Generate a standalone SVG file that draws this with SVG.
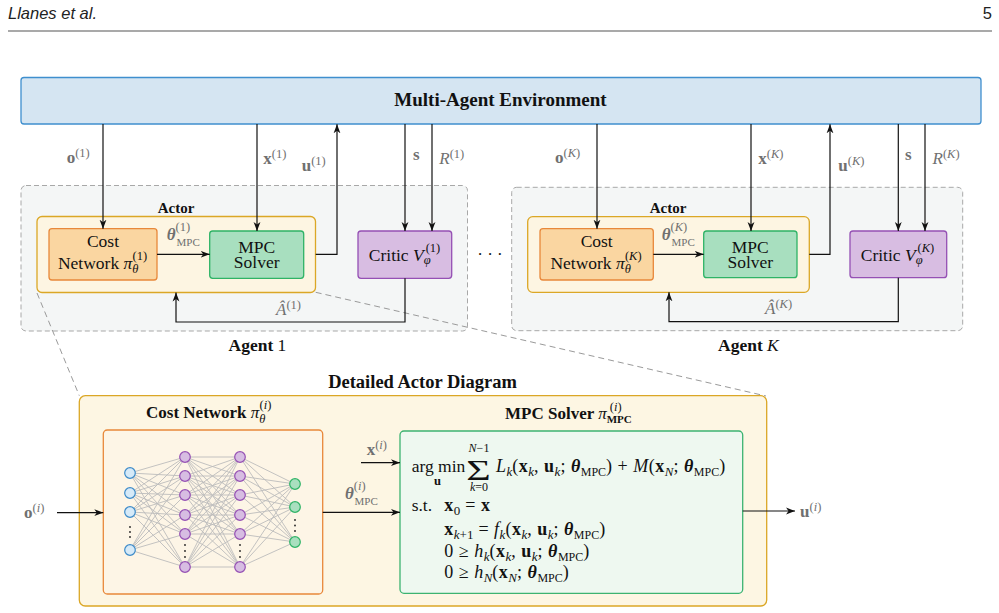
<svg xmlns="http://www.w3.org/2000/svg" width="999" height="613" viewBox="0 0 999 613">
<defs>
<style>
text{font-family:"Liberation Serif","Times New Roman",serif;fill:#111}
.hdr{font-family:"Liberation Sans",Arial,sans-serif;font-style:italic;font-size:16.5px;fill:#222}
.b{font-weight:bold}
.n{font-weight:normal}
.i{font-style:italic}
.bi{font-weight:bold;font-style:italic}
.g{fill:#707070}
.c{fill:none;stroke:#111;stroke-width:1.2}
.ca{marker-end:url(#ah)}
.dash{fill:none;stroke:#9a9a9a;stroke-width:1;stroke-dasharray:6 4}
.agent{fill:#f4f6f6;stroke:#a8a8a8;stroke-width:1;stroke-dasharray:5 3}
.actor{fill:#fdf5e2;stroke:#dba726;stroke-width:1.3}
.cost{fill:#fad6a1;stroke:#e8883a;stroke-width:1.3}
.mpc{fill:#a8dfbf;stroke:#2eb366;stroke-width:1.3}
.critic{fill:#d8bde2;stroke:#9550b4;stroke-width:1.3}
.box{font-size:17.5px}
.lab{font-size:17px}
.sm{font-size:12.5px}
.xs{font-size:11px}
.f{font-size:18px;letter-spacing:0.5px}
.f .sm{font-size:13px;letter-spacing:0}
.f .xs{font-size:12px;letter-spacing:0}
.nin{fill:#d6eaf8;stroke:#3d8bc9;stroke-width:1.2}
.nh{fill:#d7bde2;stroke:#9550b4;stroke-width:1.2}
.nout{fill:#a9dfbf;stroke:#2eb366;stroke-width:1.2}
.edge{fill:none;stroke:#bcbcbc;stroke-width:0.9}
.dot{fill:#222}
</style>
<marker id="ah" viewBox="0 0 10 10" refX="10" refY="5" markerWidth="9" markerHeight="9" markerUnits="userSpaceOnUse" orient="auto"><path d="M0,1.2L10,5L0,8.8L2.8,5z" fill="#111"/></marker>
</defs>

<g id="page-header">
<text class="hdr" x="8" y="19">Llanes et al.</text>
<text class="hdr" x="992" y="19" text-anchor="end" style="font-style:normal">5</text>
<line x1="8" y1="31" x2="992" y2="31" stroke="#555" stroke-width="1.2"/>
</g>

<g id="environment">
<rect x="21" y="77.5" width="960" height="46.5" rx="3" fill="#d5e5f2" stroke="#3f8fce" stroke-width="1.3"/>
<text class="b" x="500.5" y="106" text-anchor="middle" font-size="19">Multi-Agent Environment</text>
</g>

<g id="agent-1">
<rect class="agent" x="21" y="185.5" width="446.5" height="145.5" rx="5"/>
<text class="b" x="228.5" y="351" font-size="17.5">Agent <tspan class="n">1</tspan></text>
</g>
<g id="actor-1">
<rect class="actor" x="37" y="216.5" width="278.5" height="76" rx="5"/>
<text class="b" x="176" y="213" text-anchor="middle" font-size="15">Actor</text>
</g>
<g id="cost-network-1">
<rect class="cost" x="49" y="228.7" width="108" height="51.3" rx="3"/>
<text class="box" x="103" y="247" text-anchor="middle">Cost</text>
<text class="box" x="102.5" y="269" text-anchor="middle">Network <tspan class="i">π</tspan><tspan class="i sm" dy="3.5">θ</tspan><tspan class="sm" dx="-6" dy="-12.5">(1)</tspan></text>
</g>
<g id="mpc-solver-1">
<rect class="mpc" x="209.7" y="231" width="94" height="47.3" rx="3"/>
<text class="box" x="256.7" y="253.3" text-anchor="middle">MPC</text>
<text class="box" x="256.7" y="268.3" text-anchor="middle">Solver</text>
</g>
<g id="critic-1">
<rect class="critic" x="358" y="231" width="93.7" height="47.3" rx="3"/>
<text class="box" x="404.5" y="260.5" text-anchor="middle">Critic <tspan class="i">V</tspan><tspan class="i sm" dy="3.5">φ</tspan><tspan class="sm" dx="-5" dy="-12.5">(1)</tspan></text>
</g>

<g id="ellipsis">
<text x="490" y="260" text-anchor="middle" font-size="17">· · ·</text>
</g>

<g id="agent-K">
<rect class="agent" x="511.7" y="187.3" width="451" height="143.4" rx="5"/>
<text class="b" x="718" y="351" font-size="17.5">Agent <tspan class="n i">K</tspan></text>
</g>
<g id="actor-K">
<rect class="actor" x="527.7" y="216.7" width="281.6" height="75.6" rx="5"/>
<text class="b" x="668" y="213" text-anchor="middle" font-size="15">Actor</text>
</g>
<g id="cost-network-K">
<rect class="cost" x="540" y="228.7" width="113.3" height="51.3" rx="3"/>
<text class="box" x="596.7" y="247" text-anchor="middle">Cost</text>
<text class="box" x="596" y="269" text-anchor="middle">Network <tspan class="i">π</tspan><tspan class="i sm" dy="3.5">θ</tspan><tspan class="sm" dx="-6" dy="-12.5">(<tspan class="i">K</tspan>)</tspan></text>
</g>
<g id="mpc-solver-K">
<rect class="mpc" x="703.7" y="231" width="93.3" height="46.7" rx="3"/>
<text class="box" x="750.3" y="253.3" text-anchor="middle">MPC</text>
<text class="box" x="750.3" y="268.3" text-anchor="middle">Solver</text>
</g>
<g id="critic-K">
<rect class="critic" x="850" y="231" width="96.7" height="46.7" rx="3"/>
<text class="box" x="897.5" y="260.5" text-anchor="middle">Critic <tspan class="i">V</tspan><tspan class="i sm" dy="3.5">φ</tspan><tspan class="sm" dx="-5" dy="-12.5">(<tspan class="i">K</tspan>)</tspan></text>
</g>

<g id="callout-lines">
<path class="dash" d="M37,293L79.3,395.7"/>
<path class="dash" d="M315.7,292.3L766,396"/>
</g>

<g id="detailed-actor">
<text class="b" x="422.5" y="388" text-anchor="middle" font-size="18.5">Detailed Actor Diagram</text>
<rect x="79.3" y="395.7" width="687.4" height="210.3" rx="6" fill="#fdf6e3" stroke="#dba726" stroke-width="1.3"/>
</g>

<g id="detailed-cost-network">
<rect x="103.3" y="430" width="219.4" height="164" rx="4" fill="#fdf5e6" stroke="#e8883a" stroke-width="1.3"/>
<text class="b" x="146" y="418" font-size="17">Cost Network <tspan class="i n">π</tspan><tspan class="i n sm" dy="5">θ</tspan><tspan class="n sm" dx="-6" dy="-14">(<tspan class="i">i</tspan>)</tspan></text>
<g id="nn-edges">
<path class="edge" d="M130 473L185 457M130 473L185 476M130 473L185 495M130 473L185 515M130 473L185 534M130 473L185 567M130 493L185 457M130 493L185 476M130 493L185 495M130 493L185 515M130 493L185 534M130 493L185 567M130 512L185 457M130 512L185 476M130 512L185 495M130 512L185 515M130 512L185 534M130 512L185 567M130 550L185 457M130 550L185 476M130 550L185 495M130 550L185 515M130 550L185 534M130 550L185 567"/>
<path class="edge" d="M185 457L240 457M185 457L240 476M185 457L240 495M185 457L240 515M185 457L240 534M185 457L240 567M185 476L240 457M185 476L240 476M185 476L240 495M185 476L240 515M185 476L240 534M185 476L240 567M185 495L240 457M185 495L240 476M185 495L240 495M185 495L240 515M185 495L240 534M185 495L240 567M185 515L240 457M185 515L240 476M185 515L240 495M185 515L240 515M185 515L240 534M185 515L240 567M185 534L240 457M185 534L240 476M185 534L240 495M185 534L240 515M185 534L240 534M185 534L240 567M185 567L240 457M185 567L240 476M185 567L240 495M185 567L240 515M185 567L240 534M185 567L240 567"/>
<path class="edge" d="M240 457L295 484M240 457L295 507M240 457L295 542M240 476L295 484M240 476L295 507M240 476L295 542M240 495L295 484M240 495L295 507M240 495L295 542M240 515L295 484M240 515L295 507M240 515L295 542M240 534L295 484M240 534L295 507M240 534L295 542M240 567L295 484M240 567L295 507M240 567L295 542"/>
</g>
<g id="nn-nodes">
<circle class="nin" cx="130" cy="473" r="5.3"/><circle class="nin" cx="130" cy="493" r="5.3"/><circle class="nin" cx="130" cy="512" r="5.3"/><circle class="nin" cx="130" cy="550" r="5.3"/>
<circle class="nh" cx="185" cy="457" r="5.3"/><circle class="nh" cx="185" cy="476" r="5.3"/><circle class="nh" cx="185" cy="495" r="5.3"/><circle class="nh" cx="185" cy="515" r="5.3"/><circle class="nh" cx="185" cy="534" r="5.3"/><circle class="nh" cx="185" cy="567" r="5.3"/>
<circle class="nh" cx="240" cy="457" r="5.3"/><circle class="nh" cx="240" cy="476" r="5.3"/><circle class="nh" cx="240" cy="495" r="5.3"/><circle class="nh" cx="240" cy="515" r="5.3"/><circle class="nh" cx="240" cy="534" r="5.3"/><circle class="nh" cx="240" cy="567" r="5.3"/>
<circle class="nout" cx="295" cy="484" r="5.3"/><circle class="nout" cx="295" cy="507" r="5.3"/><circle class="nout" cx="295" cy="542" r="5.3"/>
<circle class="dot" cx="130" cy="527" r="0.9"/><circle class="dot" cx="130" cy="532" r="0.9"/><circle class="dot" cx="130" cy="537" r="0.9"/>
<circle class="dot" cx="185" cy="545" r="0.9"/><circle class="dot" cx="185" cy="551" r="0.9"/><circle class="dot" cx="185" cy="557" r="0.9"/>
<circle class="dot" cx="240" cy="545" r="0.9"/><circle class="dot" cx="240" cy="551" r="0.9"/><circle class="dot" cx="240" cy="557" r="0.9"/>
<circle class="dot" cx="295" cy="520" r="0.9"/><circle class="dot" cx="295" cy="525.5" r="0.9"/><circle class="dot" cx="295" cy="531" r="0.9"/>
</g>
</g>

<g id="detailed-mpc-solver">
<rect x="400" y="431" width="342.7" height="162.3" rx="4" fill="#eef8f0" stroke="#3cb371" stroke-width="1.3"/>
<text class="b" x="505" y="419" font-size="17">MPC Solver <tspan class="i n">π</tspan><tspan class="xs" dy="4">MPC</tspan><tspan class="n sm" dx="-22" dy="-12">(<tspan class="i">i</tspan>)</tspan></text>
<text x="411.7" y="472" font-size="17.5">arg min</text>
<text class="b" x="437.5" y="485" text-anchor="middle" font-size="12.5">u</text>
<text transform="translate(478.5,479.5) scale(1.45,1)" text-anchor="middle" font-size="29">Σ</text>
<text x="479" y="451.5" text-anchor="middle" font-size="12"><tspan class="i">N</tspan>−1</text>
<text x="479" y="491" text-anchor="middle" font-size="12"><tspan class="i">k</tspan>=0</text>
<text class="f" x="496" y="472"><tspan class="i">L</tspan><tspan class="i sm" dy="3.5">k</tspan><tspan dy="-3.5">(</tspan><tspan class="b">x</tspan><tspan class="i sm" dy="3.5">k</tspan><tspan dy="-3.5">, </tspan><tspan class="b">u</tspan><tspan class="i sm" dy="3.5">k</tspan><tspan dy="-3.5">; </tspan><tspan class="bi">θ</tspan><tspan class="xs" dy="3.5">MPC</tspan><tspan dy="-3.5">) + </tspan><tspan class="i">M</tspan><tspan>(</tspan><tspan class="b">x</tspan><tspan class="i sm" dy="3.5">N</tspan><tspan dy="-3.5">; </tspan><tspan class="bi">θ</tspan><tspan class="xs" dy="3.5">MPC</tspan><tspan dy="-3.5">)</tspan></text>
<text x="411.7" y="511" font-size="17.5">s.t.</text>
<text class="f" x="444.3" y="511"><tspan class="b">x</tspan><tspan class="sm" dy="3.5">0</tspan><tspan dy="-3.5"> = </tspan><tspan class="b">x</tspan></text>
<text class="f" x="444.3" y="535"><tspan class="b">x</tspan><tspan class="sm" dy="3.5"><tspan class="i">k</tspan>+1</tspan><tspan dy="-3.5"> = </tspan><tspan class="i">f</tspan><tspan class="i sm" dy="3.5">k</tspan><tspan dy="-3.5">(</tspan><tspan class="b">x</tspan><tspan class="i sm" dy="3.5">k</tspan><tspan dy="-3.5">, </tspan><tspan class="b">u</tspan><tspan class="i sm" dy="3.5">k</tspan><tspan dy="-3.5">; </tspan><tspan class="bi">θ</tspan><tspan class="xs" dy="3.5">MPC</tspan><tspan dy="-3.5">)</tspan></text>
<text class="f" x="444.3" y="557">0 ≥ <tspan class="i">h</tspan><tspan class="i sm" dy="3.5">k</tspan><tspan dy="-3.5">(</tspan><tspan class="b">x</tspan><tspan class="i sm" dy="3.5">k</tspan><tspan dy="-3.5">, </tspan><tspan class="b">u</tspan><tspan class="i sm" dy="3.5">k</tspan><tspan dy="-3.5">; </tspan><tspan class="bi">θ</tspan><tspan class="xs" dy="3.5">MPC</tspan><tspan dy="-3.5">)</tspan></text>
<text class="f" x="444.3" y="578">0 ≥ <tspan class="i">h</tspan><tspan class="i sm" dy="3.5">N</tspan><tspan dy="-3.5">(</tspan><tspan class="b">x</tspan><tspan class="i sm" dy="3.5">N</tspan><tspan dy="-3.5">; </tspan><tspan class="bi">θ</tspan><tspan class="xs" dy="3.5">MPC</tspan><tspan dy="-3.5">)</tspan></text>
</g>

<g id="connectors">
<path class="c ca" d="M103,124V228.7"/>
<path class="c ca" d="M257,124V231"/>
<path class="c ca" d="M315.7,254.3H337V124.3"/>
<path class="c ca" d="M405,124V231"/>
<path class="c ca" d="M432,124V231"/>
<path class="c ca" d="M157,254.3H209.7"/>
<path class="c ca" d="M405,278.3V322H176V292.5"/>
<path class="c ca" d="M597,124V228.7"/>
<path class="c ca" d="M751,124V231"/>
<path class="c ca" d="M809.3,254.3H830V124.3"/>
<path class="c ca" d="M898.3,124V231"/>
<path class="c ca" d="M925,124V231"/>
<path class="c ca" d="M653.3,254.3H703.7"/>
<path class="c ca" d="M898.3,277.7V321.7H669V292.3"/>
<path class="c ca" d="M57,512.7H103.3"/>
<path class="c ca" d="M361,462.7H400"/>
<path class="c ca" d="M322.7,512.3H400"/>
<path class="c ca" d="M742.7,511H795"/>

<text class="g lab" x="66.7" y="163"><tspan class="b">o</tspan><tspan class="sm" dy="-6">(1)</tspan></text>
<text class="g lab" x="263.3" y="164"><tspan class="b">x</tspan><tspan class="sm" dy="-6">(1)</tspan></text>
<text class="g lab" x="301.7" y="171"><tspan class="b">u</tspan><tspan class="sm" dy="-6">(1)</tspan></text>
<text class="g lab b" x="413" y="160">s</text>
<text class="g lab" x="439.3" y="164"><tspan class="i">R</tspan><tspan class="sm" dy="-6">(1)</tspan></text>
<text class="g lab" x="166.7" y="240"><tspan class="bi">θ</tspan><tspan class="sm" dy="-9">(1)</tspan><tspan class="xs" x="176.5" dy="15">MPC</tspan></text>
<text class="g lab" x="276" y="315"><tspan class="i">Â</tspan><tspan class="sm" dy="-6">(1)</tspan></text>

<text class="g lab" x="555" y="163"><tspan class="b">o</tspan><tspan class="sm" dy="-6">(<tspan class="i">K</tspan>)</tspan></text>
<text class="g lab" x="758.3" y="164"><tspan class="b">x</tspan><tspan class="sm" dy="-6">(<tspan class="i">K</tspan>)</tspan></text>
<text class="g lab" x="838.3" y="171"><tspan class="b">u</tspan><tspan class="sm" dy="-6">(<tspan class="i">K</tspan>)</tspan></text>
<text class="g lab b" x="905" y="160">s</text>
<text class="g lab" x="932.5" y="164"><tspan class="i">R</tspan><tspan class="sm" dy="-6">(<tspan class="i">K</tspan>)</tspan></text>
<text class="g lab" x="661.7" y="240"><tspan class="bi">θ</tspan><tspan class="sm" dy="-9">(<tspan class="i">K</tspan>)</tspan><tspan class="xs" x="671.5" dy="15">MPC</tspan></text>
<text class="g lab" x="765" y="314"><tspan class="i">Â</tspan><tspan class="sm" dy="-6">(<tspan class="i">K</tspan>)</tspan></text>

<text class="g lab" x="24" y="518"><tspan class="b">o</tspan><tspan class="sm" dy="-6">(<tspan class="i">i</tspan>)</tspan></text>
<text class="g lab" x="366.7" y="455"><tspan class="b">x</tspan><tspan class="sm" dy="-6">(<tspan class="i">i</tspan>)</tspan></text>
<text class="g lab" x="345" y="499"><tspan class="bi">θ</tspan><tspan class="sm" dy="-9">(<tspan class="i">i</tspan>)</tspan><tspan class="xs" x="354.5" dy="15">MPC</tspan></text>
<text class="g lab" x="800" y="517"><tspan class="b">u</tspan><tspan class="sm" dy="-6">(<tspan class="i">i</tspan>)</tspan></text>
</g>
</svg>
